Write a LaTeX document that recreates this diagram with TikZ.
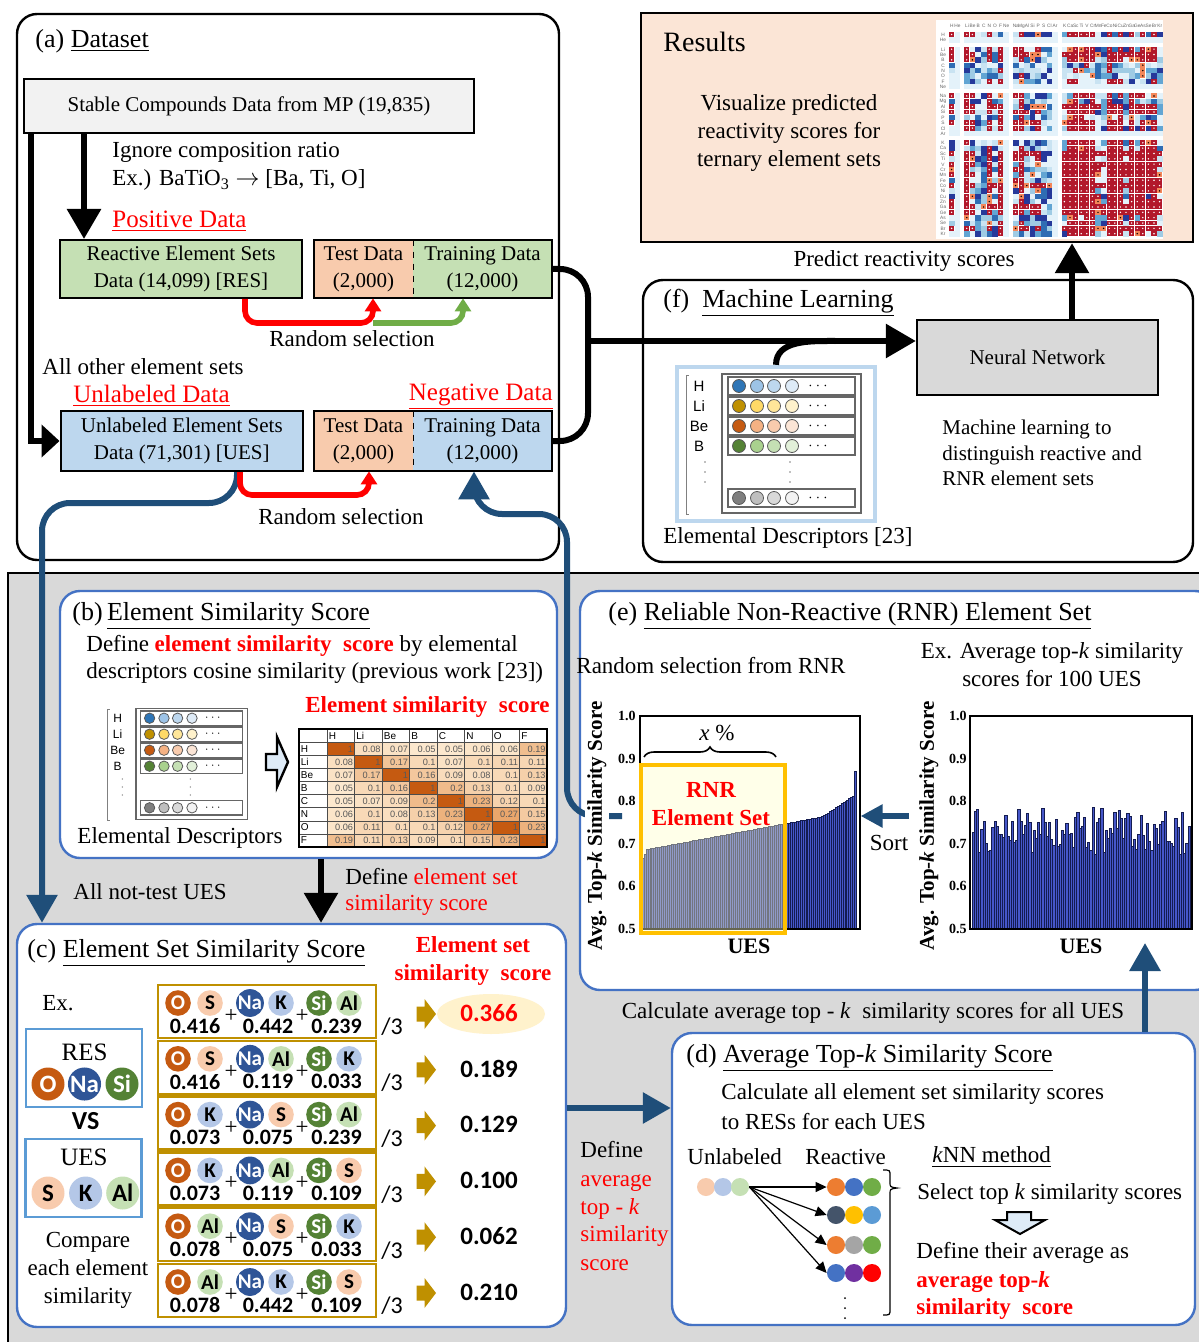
\documentclass[tikz,border=0pt]{standalone}
\usepackage{fontspec}
\setmainfont{Liberation Serif}
\newfontfamily\calib{Carlito}
\newfontfamily\arialf{Liberation Sans}
\usetikzlibrary{arrows.meta,positioning,shapes.geometric,decorations.pathreplacing}

\definecolor{pblue}{HTML}{4472C4}
\definecolor{dblue}{HTML}{1F4E79}
\definecolor{setblue}{HTML}{5B9BD5}
\definecolor{peach}{HTML}{F8CBAD}
\definecolor{lgreen}{HTML}{C5E0B4}
\definecolor{lblue}{HTML}{BDD7EE}
\definecolor{mpgray}{HTML}{F2F2F2}
\definecolor{nngray}{HTML}{D9D9D9}
\definecolor{bggray}{HTML}{D9D9D9}
\definecolor{resbg}{HTML}{FBE5D6}
\definecolor{agreen}{HTML}{70AD47}
\definecolor{gold}{HTML}{BF9000}
\definecolor{ellyel}{HTML}{FFF2CC}
\definecolor{rnrorange}{HTML}{FFC000}
\definecolor{rnrfill}{HTML}{FFFFC8}
\definecolor{barblue}{HTML}{4657C9}
\definecolor{barline}{HTML}{141C50}
\definecolor{arrfill}{HTML}{DEEBF7}
\definecolor{tabhi}{HTML}{E9A468}
\definecolor{tablo}{HTML}{FDEBD2}
% element colours
\definecolor{cO}{HTML}{C55A11}
\definecolor{cNa}{HTML}{2F5597}
\definecolor{cSi}{HTML}{548235}
\definecolor{cS}{HTML}{F8CBAD}
\definecolor{cK}{HTML}{B4C7E7}
\definecolor{cAl}{HTML}{C5E0B4}
% kNN colours
\definecolor{kor}{HTML}{ED7D31}
\definecolor{kbl}{HTML}{4472C4}
\definecolor{kgr}{HTML}{70AD47}
\definecolor{ksl}{HTML}{44546A}
\definecolor{kye}{HTML}{FFC000}
\definecolor{klb}{HTML}{5B9BD5}
\definecolor{kgy}{HTML}{A5A5A5}
\definecolor{kpu}{HTML}{7030A0}
% descriptor colours
\definecolor{cb1}{HTML}{2E75B6}\definecolor{cb2}{HTML}{9DC3E6}\definecolor{cb3}{HTML}{BDD7EE}\definecolor{cb4}{HTML}{DEEBF7}
\definecolor{cy1}{HTML}{BF9000}\definecolor{cy2}{HTML}{FFD966}\definecolor{cy3}{HTML}{FFE699}\definecolor{cy4}{HTML}{FFF2CC}
\definecolor{co1}{HTML}{C55A11}\definecolor{co2}{HTML}{F4B183}\definecolor{co3}{HTML}{F8CBAD}\definecolor{co4}{HTML}{FBE5D6}
\definecolor{cg1}{HTML}{548235}\definecolor{cg2}{HTML}{A9D18E}\definecolor{cg3}{HTML}{C5E0B4}\definecolor{cg4}{HTML}{E2F0D9}
\definecolor{ck1}{HTML}{7F7F7F}\definecolor{ck2}{HTML}{BFBFBF}\definecolor{ck3}{HTML}{D9D9D9}\definecolor{ck4}{HTML}{F2F2F2}
% heatmap colours
\definecolor{hmred}{HTML}{B2182B}
\definecolor{hmor}{HTML}{F4875A}
\definecolor{hmye}{HTML}{FBE38C}
\definecolor{hm0}{HTML}{E4F2FA}\definecolor{hm1}{HTML}{C9E3F2}\definecolor{hm2}{HTML}{9FCBE4}
\definecolor{hm3}{HTML}{62A5D3}\definecolor{hm4}{HTML}{2E6CB3}\definecolor{hm5}{HTML}{26399A}

\newcommand{\fbody}{\fontsize{11.5}{14}\selectfont}
\newcommand{\fsmall}{\fontsize{10.5}{13.5}\selectfont}
\newcommand{\ftitle}{\fontsize{13}{15}\selectfont}
\newcommand{\flarge}{\fontsize{12.5}{15}\selectfont}

\tikzset{
  cring/.style={draw=gray!70!black, line width=0.4pt},
  desc/.pic={
    \draw[gray, line width=0.5pt] (12,8) -- (9,8) -- (9,147) -- (12,147);
    \foreach \lab [count=\k from 0] in {H,Li,Be,B}
      \node[inner sep=0pt, font=\arialf\fontsize{7.5}{8}\selectfont] at (22,19+20*\k) {\lab};
    \foreach \k in {0,1,2} {
      \fill[gray] (28,95+10*\k) circle (0.9);
      \fill[gray] (113,95+10*\k) circle (0.9);
    }
    \draw[gray!80!black, line width=0.6pt] (45,7) rectangle (184,146);
    \foreach \qa/\qb/\qc/\qd/\ry in {cb1/cb2/cb3/cb4/19, cy1/cy2/cy3/cy4/39,
        co1/co2/co3/co4/59, cg1/cg2/cg3/cg4/79, ck1/ck2/ck3/ck4/131} {
      \draw[gray!80!black, line width=0.6pt] (51,\ry-9) rectangle (178,\ry+9);
      \draw[cring, fill=\qa] (62,\ry) circle (6.5);
      \draw[cring, fill=\qb] (80,\ry) circle (6.5);
      \draw[cring, fill=\qc] (97,\ry) circle (6.5);
      \draw[cring, fill=\qd] (115,\ry) circle (6.5);
      \node[inner sep=0pt, font=\fontsize{7}{7}\selectfont] at (141,\ry) {$\cdots$};
    }
  }
}

\begin{document}
\begin{tikzpicture}[
  x=0.5pt, y=-0.5pt,
  txt/.style={font=\fbody, inner sep=0pt, align=center},
  ltxt/.style={txt, anchor=west, align=left},
  ptitle/.style={font=\ftitle, inner sep=0pt, anchor=west},
  panel/.style={draw, line width=1.2pt, rounded corners=10pt, inner sep=0pt},
  bpanel/.style={panel, draw=pblue, fill=white},
  databox/.style={draw, line width=1pt, inner sep=0pt, align=center, font=\fsmall},
  halfbox/.style={inner sep=0pt, align=center, font=\fsmall},
  redlab/.style={txt, font=\flarge, text=red},
  blackarr/.style={line width=3pt, -{Triangle[width=16.5pt,length=15pt]}},
  redarr/.style={line width=2.8pt, red, -{Triangle[width=8pt,length=6.5pt]}},
  greenarr/.style={redarr, agreen},
  bluearr/.style={line width=3pt, dblue, -{Triangle[width=15pt,length=14pt]}},
  thinarr/.style={line width=0.6pt, -{Triangle[width=5pt,length=5.5pt]}},
  el/.style={circle, inner sep=0pt, minimum size=12.8pt, font=\calib\bfseries\fontsize{10.5}{10.5}\selectfont},
  bigel/.style={el, minimum size=16.5pt, font=\calib\bfseries\fontsize{12.5}{12.5}\selectfont},
  numlab/.style={inner sep=0pt, font=\calib\bfseries\fontsize{11}{11}\selectfont},
  scorelab/.style={inner sep=0pt, font=\calib\bfseries\fontsize{12.5}{12.5}\selectfont},
  rowbox/.style={draw=gold, line width=1.2pt, minimum width=109pt, minimum height=26.5pt, inner sep=0pt},
  setbox/.style={draw=setblue, line width=1.2pt, minimum width=58pt, minimum height=39pt, inner sep=0pt},
  tabnum/.style={inner sep=0pt, font=\arialf\fontsize{4.6}{5}\selectfont, text=black!65},
  tabhead/.style={inner sep=0pt, font=\arialf\fontsize{5}{5}\selectfont},
  ticklab/.style={inner sep=0pt, anchor=east, font=\bfseries\fontsize{7}{7}\selectfont},
  axlab/.style={inner sep=1pt, rotate=90, font=\bfseries\fontsize{10.5}{12}\selectfont, fill=white},
  ubar/.style={fill=barblue, draw=barline, line width=0.3pt},
  edot/.style={circle, inner sep=0pt, minimum size=9pt},
]
\useasboundingbox (0,0) rectangle (1198,1342);

% lower gray area
\fill[bggray] (8,573) rectangle (1215,1360);
\draw[line width=1.2pt] (8,1360) -- (8,573) -- (1215,573);

% ---------------- (a) Dataset ----------------
\node[panel, minimum width=271pt, minimum height=273pt] (pa) at (288,287) {};
\node[ptitle] at (35,41) {(a) \underline{Dataset}};
\node[databox, fill=mpgray, minimum width=225pt, minimum height=27pt] (mp) at (249,106)
  {Stable Compounds Data from MP (19,835)};
\node[ltxt] at (112,152) {Ignore composition ratio};
\node[ltxt] at (112,180) {Ex.) BaTiO\textsubscript{3} $\rightarrow$ [Ba, Ti, O]};
\node[redlab, anchor=west] at (112,221) {\underline{Positive Data}};

\node[databox, fill=lgreen, minimum width=120.75pt, minimum height=29pt] (resb) at (181,269)
  {Reactive Element Sets\\Data (14,099) [RES]};
\node[halfbox, fill=peach, minimum width=49.5pt, minimum height=29pt] (rtest) at (363.5,269) {Test Data\\(2,000)};
\node[halfbox, fill=lgreen, minimum width=69.5pt, minimum height=29pt] (rtrain) at (482.5,269) {Training Data\\(12,000)};
\draw[line width=1pt] (rtest.north west) rectangle (rtrain.south east);
\draw[dashed, line width=0.8pt] (rtest.north east) -- (rtest.south east);

\node[txt] at (352,339) {Random selection};
\node[ltxt] at (42,367) {All other element sets};
\node[redlab, anchor=west] at (73,396) {\underline{Unlabeled Data}};
\node[redlab, anchor=east] at (553,397) {\underline{Negative Data}};

\node[databox, fill=lblue, minimum width=121.25pt, minimum height=30pt] (uesb) at (181.75,441)
  {Unlabeled Element Sets\\Data (71,301) [UES]};
\node[halfbox, fill=peach, minimum width=49.5pt, minimum height=30pt] (utest) at (363.5,441) {Test Data\\(2,000)};
\node[halfbox, fill=lblue, minimum width=69.5pt, minimum height=30pt] (utrain) at (482.5,441) {Training Data\\(12,000)};
\draw[line width=1pt] (utest.north west) rectangle (utrain.south east);
\draw[dashed, line width=0.8pt] (utest.north east) -- (utest.south east);
\node[txt] at (341,517) {Random selection};

% ---------------- Results ----------------
\node[draw, line width=1.2pt, fill=resbg, minimum width=276pt, minimum height=114.5pt, inner sep=0pt] (res) at (917,127.5) {};
\node[anchor=west, inner sep=0pt, font=\fontsize{14}{16}\selectfont] at (663,42) {Results};
\node[txt] at (789,133) {Visualize predicted\\reactivity scores for\\ternary element sets};
\fill[white] (936,20) rectangle (1163,239);
\pgfmathsetseed{17}
\foreach \i in {0,...,35}{
  \foreach \j in {0,...,35}{
    \pgfmathsetmacro\hx{949+5.6*\i+4*((\i>1)+(\i>9)+(\i>17))}
    \pgfmathsetmacro\hy{32+5.35*\j+4*((\j>1)+(\j>9)+(\j>17))}
    \pgfmathsetmacro\fr{frac(abs(sin(\j*71.3+11))*437.58)}
    \pgfmathsetmacro\fc{frac(abs(sin(\i*53.7+29))*391.27)}
    \pgfmathsetmacro\pr{0.5*\fr+0.5*\fc+0.25*(\i>17)*(\j>17)+0.3*(rnd-0.5)}
    \pgfmathtruncatemacro\ng{(\i==1)||(\i==9)||(\i==17)||(\j==1)||(\j==9)||(\j==17)}
    \pgfmathtruncatemacro\bb{min(5,int(6*rnd^1.3))}
    \ifnum\ng=1
      \fill[hm0] (\hx,\hy) rectangle ++(5.6,5.35);
    \else
      \ifdim\pr pt>0.6pt
        \fill[hmred] (\hx,\hy) rectangle ++(5.2,4.95);
        \fill[white] (\hx+2.6,\hy+2.48) circle (0.8);
      \else
        \ifdim\pr pt>0.56pt
          \fill[hmor] (\hx,\hy) rectangle ++(5.2,4.95);
          \fill[black] (\hx+2.6,\hy+2.48) circle (0.8);
        \else
          \fill[fill=hm\bb] (\hx,\hy) rectangle ++(5.6,5.35);
        \fi
      \fi
    \fi
  }
}
\foreach \lab [count=\i from 0] in {H,He,Li,Be,B,C,N,O,F,Ne,Na,Mg,Al,Si,P,S,Cl,Ar,K,Ca,Sc,Ti,V,Cr,Mn,Fe,Co,Ni,Cu,Zn,Ga,Ge,As,Se,Br,Kr}{
  \pgfmathsetmacro\hx{949+5.6*\i+4*((\i>1)+(\i>9)+(\i>17))+2.8}
  \pgfmathsetmacro\hy{32+5.35*\i+4*((\i>1)+(\i>9)+(\i>17))+2.7}
  \node[inner sep=0pt, text=gray!80!black, font=\arialf\fontsize{2.4}{2.4}\selectfont] at (\hx,26) {\lab};
  \node[inner sep=0pt, text=gray!80!black, font=\arialf\fontsize{2.4}{2.4}\selectfont] at (943,\hy) {\lab};
}
\node[txt] at (904,261) {Predict reactivity scores};

% ---------------- (f) Machine Learning ----------------
\node[panel, minimum width=275pt, minimum height=141pt] (pf) at (918,421) {};
\node[ptitle] at (663,303) {(f)\ \ \underline{Machine Learning}};
\node[draw, line width=1.2pt, fill=nngray, minimum width=120.5pt, minimum height=37.5pt, inner sep=0pt, font=\fsmall] (nn) at (1037.5,357.5) {Neural Network};
\node[inner sep=0pt, anchor=west, align=left, font=\fontsize{10.5}{12.75}\selectfont] at (942,453)
  {Machine learning to\\distinguish reactive and\\RNR element sets};
\node[draw=lblue, line width=2.2pt, minimum width=99pt, minimum height=77pt, inner sep=0pt] (descf) at (776,444) {};
\pic at (677,367) {desc};
\node[ltxt] at (663,538) {Elemental Descriptors [23]};

% ---------------- (b) Element Similarity Score ----------------
\node[bpanel, minimum width=248.5pt, minimum height=133.5pt] (pb) at (308.5,724.5) {};
\node[ptitle] at (72,616) {(b)\,\underline{Element Similarity Score}};
\node[ltxt] at (86,646) {Define \textcolor{red}{\textbf{element similarity\ \ score}} by elemental};
\node[ltxt] at (86,673) {descriptors cosine similarity (previous work [23])};
\node[txt, anchor=east, text=red, font=\bfseries\fontsize{11.5}{14}\selectfont] at (550,707) {Element similarity\ \ score};
\pic[scale=0.8, transform shape] at (100,703) {desc};
\node[txt] at (180,838) {Elemental Descriptors};
\draw[line width=1.2pt, fill=arrfill] (266,754) -- (277,754) -- (277,737) -- (288,762) -- (277,787) -- (277,770) -- (266,770) -- cycle;
% similarity table
\foreach \vals [count=\r from 0] in {
  {1,0.08,0.07,0.05,0.05,0.06,0.06,0.19},
  {0.08,1,0.17,0.1,0.07,0.1,0.11,0.11},
  {0.07,0.17,1,0.16,0.09,0.08,0.1,0.13},
  {0.05,0.1,0.16,1,0.2,0.13,0.1,0.09},
  {0.05,0.07,0.09,0.2,1,0.23,0.12,0.1},
  {0.06,0.1,0.08,0.13,0.23,1,0.27,0.15},
  {0.06,0.11,0.1,0.1,0.12,0.27,1,0.23},
  {0.19,0.11,0.13,0.09,0.1,0.15,0.23,1}}{
  \foreach \v [count=\c from 0] in \vals {
    \pgfmathsetmacro\cx{327+27.5*\c}
    \pgfmathsetmacro\cy{742.5+13.05*\r}
    \ifdim\v pt>0.99pt
      \fill[cO] (\cx,\cy) rectangle ++(27.5,13.05);
    \else
      \pgfmathsetmacro\pc{min(100,max(0,(\v-0.04)*420))}
      \fill[fill=tabhi!\pc!tablo] (\cx,\cy) rectangle ++(27.5,13.05);
    \fi
    \node[tabnum, anchor=east] at (\cx+26.5,\cy+6.8) {\v};
  }
}
\foreach \h [count=\c from 0] in {H,Li,Be,B,C,N,O,F}{
  \node[tabhead, anchor=west] at (328.5+27.5*\c,736) {\h};
  \node[tabhead, anchor=west] at (300.5,749+13.05*\c) {\h};
}
\foreach \c in {0,...,8}
  \draw[gray!60!black, line width=0.3pt] (327+27.5*\c,729) -- (327+27.5*\c,847);
\foreach \r in {0,...,8}
  \draw[gray!60!black, line width=0.3pt] (299,742.5+13.05*\r) -- (547,742.5+13.05*\r);
\node[draw, line width=0.8pt, minimum width=124pt, minimum height=59pt, inner sep=0pt] (simtab) at (423,788) {};

% ---------------- (e) RNR Element Set ----------------
\node[bpanel, minimum width=317.5pt, minimum height=199.5pt] (pe) at (897.5,790.5) {};
\node[ptitle] at (608,616) {(e) \underline{Reliable Non-Reactive (RNR) Element Set}};
\node[ltxt] at (576,666) {Random selection from RNR};
\node[txt] at (1052,664.5) {Ex. Average top-\textit{k} similarity\\scores for 100 UES};
% sorted bars
\foreach \t in {0,...,109}{
  \pgfmathsetmacro\bv{0.685+0.00085*\t+0.0022*max(\t-92,0)-0.02*(\t==0)-0.01*(\t==1)+0.055*(\t==109)}
  \pgfmathsetmacro\bx{642+1.95*\t}
  \draw[ubar] (\bx,929) rectangle (\bx+1.95,{929-426*(\bv-0.5)});
}
% unsorted bars
\pgfmathsetseed{5}
\foreach \t in {0,...,99}{
  \pgfmathsetmacro\bv{0.675+0.11*rnd+0.1*(\t==2)-0.05*(\t==78)}
  \pgfmathsetmacro\bx{972+2.18*\t}
  \draw[ubar] (\bx,929) rectangle (\bx+2.18,{929-426*(\bv-0.5)});
}
\node[draw, line width=0.6pt, minimum width=110pt, minimum height=106.5pt, inner sep=0pt] (lchart) at (750,822.5) {};
\node[draw, line width=0.6pt, minimum width=111pt, minimum height=106.5pt, inner sep=0pt] (rchart) at (1081,822.5) {};
\foreach \tv [count=\k from 0] in {1.0,0.9,0.8,0.7,0.6,0.5}{
  \node[ticklab] at (636,716+42.6*\k) {\tv};
  \node[ticklab] at (967,716+42.6*\k) {\tv};
}
\node[draw=rnrorange, line width=2.2pt, fill=rnrfill, fill opacity=0.4, minimum width=72pt, minimum height=84pt, inner sep=0pt] (rnr) at (713,849) {};
\node[txt, text=red, font=\bfseries\fontsize{11.5}{14}\selectfont] at (711,804) {RNR\\Element Set};
\draw[line width=0.8pt, decorate, decoration={brace, amplitude=5pt}] (644,757) -- (776,757);
\node[txt] at (717,733) {\textit{x} \%};
\node[txt, font=\bfseries\fontsize{11}{13}\selectfont] at (749,946) {UES};
\node[txt, font=\bfseries\fontsize{11}{13}\selectfont] at (1081,946) {UES};
\node[txt] at (889,843) {Sort};
\coordinate (sortc) at (909,816);
\draw[bluearr, -{Triangle[width=11pt,length=11pt]}] (sortc) -- (lchart.east |- 0,816);

% ---------------- (c) Element Set Similarity Score ----------------
\node[bpanel, minimum width=274.5pt, minimum height=201.5pt] (pc) at (291.5,1125.5) {};
\node[ptitle] at (27,953) {(c) \underline{Element Set Similarity Score}};
\node[txt, text=red, font=\bfseries\fontsize{11.5}{14}\selectfont] at (473,961) {Element set\\similarity\ \ score};
\node[txt] at (58,1003) {Ex.};
\node[setbox] (resset) at (84,1068) {};
\node[txt, font=\flarge] at (84.5,1052) {RES};
\node[bigel, fill=cO, text=white] at (48,1084) {O};
\node[bigel, fill=cNa, text=white] at (84.5,1084) {Na};
\node[bigel, fill=cSi, text=white] at (122,1084) {Si};
\node[txt, font=\calib\bfseries\fontsize{13}{13}\selectfont] at (85.6,1121) {VS};
\node[setbox] (uesset) at (83.6,1178) {};
\node[txt, font=\flarge] at (84,1157) {UES};
\node[bigel, fill=cS] at (48,1193) {S};
\node[bigel, fill=cK] at (85.6,1193) {K};
\node[bigel, fill=cAl] at (122.7,1193) {Al};
\node[txt] at (88,1270) {Compare\\each element\\similarity};
\foreach \xa/\xb/\xc/\va/\vb/\vc/\vs [count=\r from 0] in {
  S/K/Al/0.416/0.442/0.239/0.366,
  S/Al/K/0.416/0.119/0.033/0.189,
  K/S/Al/0.073/0.075/0.239/0.129,
  K/Al/S/0.073/0.119/0.109/0.100,
  Al/S/K/0.078/0.075/0.033/0.062,
  Al/K/S/0.078/0.442/0.109/0.210}{
  \pgfmathsetmacro\ty{985+55.8*\r}
  \node[rowbox] (row\r) at (267,\ty+26.5) {};
  \node[el, fill=cO, text=white] at (178,\ty+18) {O};
  \node[el, fill=c\xa] at (210,\ty+18) {\xa};
  \node[el, fill=cNa, text=white] at (250,\ty+18) {Na};
  \node[el, fill=c\xb] at (281,\ty+18) {\xb};
  \node[el, fill=cSi, text=white] at (319,\ty+18) {Si};
  \node[el, fill=c\xc] at (349,\ty+18) {\xc};
  \node[numlab] at (195,\ty+41) {\va};
  \node[numlab] at (268,\ty+41) {\vb};
  \node[numlab] at (336.5,\ty+41) {\vc};
  \node[txt] at (231,\ty+31) {+};
  \node[txt] at (302,\ty+31) {+};
  \node[inner sep=0pt, font=\calib\fontsize{12}{12}\selectfont] at (392,\ty+42) {/3};
  \fill[gold] (416.5,\ty+21.5) -- (424.5,\ty+21.5) -- (424.5,\ty+14) -- (436,\ty+29)
    -- (424.5,\ty+44) -- (424.5,\ty+36.5) -- (416.5,\ty+36.5) -- cycle;
  \ifnum\r=0
    \node[ellipse, fill=ellyel, minimum width=54pt, minimum height=20pt] at (491,\ty+29) {};
    \node[scorelab, text=red] at (489,\ty+28) {\vs};
  \else
    \node[scorelab] at (489,\ty+28) {\vs};
  \fi
}

% ---------------- (d) Average Top-k Similarity Score ----------------
\node[bpanel, minimum width=261.5pt, minimum height=146pt] (pd) at (933.5,1179) {};
\node[ptitle] at (686,1058) {(d) \underline{Average Top-\textit{k} Similarity Score}};
\node[ltxt] at (721,1094) {Calculate all element set similarity scores};
\node[ltxt] at (721,1122) {to RESs for each UES};
\node[ltxt] at (687,1157) {Unlabeled};
\node[ltxt] at (805,1157) {Reactive};
\node[ltxt] at (932,1157) {\underline{\textit{k}NN method}};
\node[edot, fill=cS] (u1) at (706,1187) {};
\node[edot, fill=cK] (u2) at (723,1187) {};
\node[edot, fill=cAl] (u3) at (740,1187) {};
\foreach \ca/\cb/\cc/\ry [count=\k] in {kor/kbl/kgr/1187, ksl/kye/klb/1215, kor/kgy/kgr/1245, kbl/kpu/red/1273}{
  \node[edot, fill=\ca] (ra\k) at (836,\ry) {};
  \node[edot, fill=\cb] at (854,\ry) {};
  \node[edot, fill=\cc] at (872,\ry) {};
  \draw[thinarr] (u3.east) -- (ra\k.west);
}
\foreach \k in {0,1,2} \fill (845,1298+10*\k) circle (1);
\draw[line width=0.6pt] (883,1170) .. controls (890,1170) .. (890,1176) -- (890,1182)
  .. controls (890,1187) .. (897,1188) .. controls (890,1189) .. (890,1194) -- (890,1309)
  .. controls (890,1315) .. (883,1315);
\node[ltxt] at (917,1194) {Select top \textit{k} similarity scores};
\draw[line width=1pt, fill=arrfill] (1007,1212) -- (1031,1212) -- (1031,1220) -- (1045,1220)
  -- (1020,1234) -- (995,1220) -- (1007,1220) -- cycle;
\node[ltxt] at (916,1253) {Define their average as};
\node[ltxt, text=red, font=\bfseries\fontsize{11.5}{14}\selectfont] at (916,1282) {average top-\textit{k}};
\node[ltxt, text=red, font=\bfseries\fontsize{11.5}{14}\selectfont] at (916,1309) {similarity\ \ score};

% ---------------- labels on the gray area ----------------
\node[ltxt] at (73,892) {All not-test UES};
\node[ltxt] at (345,877) {Define \textcolor{red}{element set}};
\node[ltxt, text=red] at (345,905) {similarity score};
\node[txt] at (873,1013) {Calculate average top - \textit{k}\ \ similarity scores for all UES};
\node[ltxt] at (580,1206) {Define\\\textcolor{red}{average}\\\textcolor{red}{top - \textit{k}}\\\textcolor{red}{similarity}\\\textcolor{red}{score}};

% ---------------- connectors ----------------
\draw[blackarr] (84,0 |- mp.south) -- (84,0 |- resb.north);
\draw[line width=3pt, -{Triangle[width=16pt,length=9pt]}] (31,0 |- mp.south) |- (uesb.west);
\draw[bluearr, rounded corners=14pt] (237,0 |- uesb.south) |- (42,503) -- (42,0 |- pc.north);
\coordinate (rnrout) at (622,816);
\draw[bluearr, rounded corners=14pt] (rnrout) -| (567,514) -| (474,0 |- utrain.south);
\node[axlab] at (597,826) {Avg. Top-\textit{k} Similarity Score};
\node[axlab] at (929,826) {Avg. Top-\textit{k} Similarity Score};
\coordinate (rsplit) at (373,323);
\draw[greenarr, rounded corners=6pt] (rsplit) -| (463,0 |- rtrain.south);
\draw[redarr, rounded corners=6pt] (245,0 |- resb.south) |- (rsplit) -- (373,0 |- rtest.south);
\draw[redarr, rounded corners=6pt] (240,0 |- uesb.south) |- (369,495) -- (369,0 |- utest.south);
% training data to neural network
\draw[line width=3pt, rounded corners=14pt] (rtrain.east) -| (588,341) |- (utrain.east);
\coordinate (brk) at (588,341);
\draw[blackarr] (brk) -- (brk -| nn.west);
\coordinate (mljoin) at (835,341);
\draw[line width=3pt] (descf.north) to[out=90, in=180] (mljoin);
\draw[blackarr] (1072,0 |- nn.north) -- (1072,0 |- res.south);
% between lower panels
\draw[blackarr] (321,0 |- pb.south) -- (321,0 |- pc.north);
\draw[bluearr] (pc.east |- 0,1108) -- (pd.west |- 0,1108);
\coordinate (uesr) at (1145,943);
\draw[bluearr] (1145,0 |- pd.north) -- (uesr);
\end{tikzpicture}
\end{document}
